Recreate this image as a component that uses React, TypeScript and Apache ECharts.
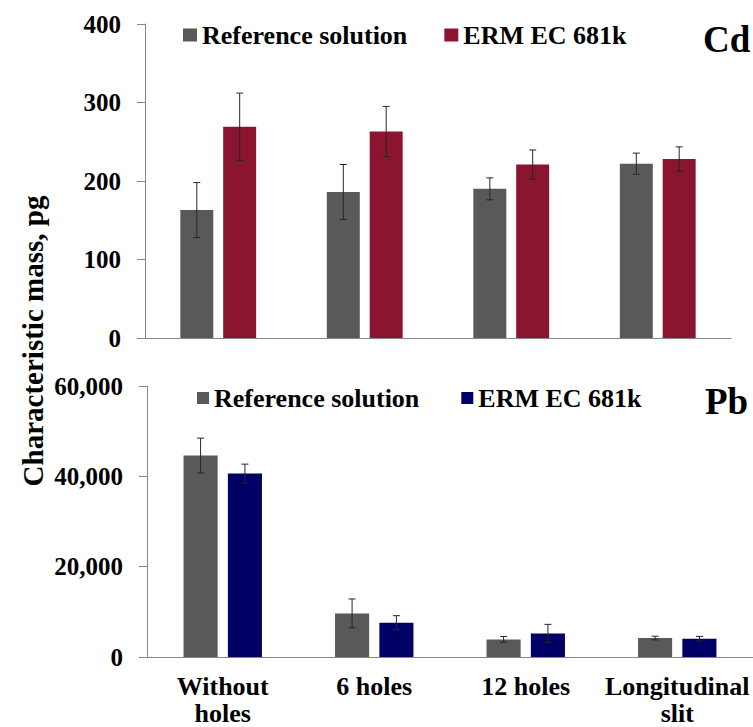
import React, { useEffect, useRef } from "react";
import * as echarts from "echarts";

const categories = ["Without\nholes", "6 holes", "12 holes", "Longitudinal\nslit"];
const seriesNames = ["Reference solution", "ERM EC 681k"];

const cdReference = [163, 186, 190, 222];
const cdReferenceErr = [35, 35, 14, 13.5];
const cdErm = [269, 263, 221, 228];
const cdErmErr = [43, 32, 18.5, 15.5];

const pbReference = [44600, 9650, 3900, 4200];
const pbReferenceErr = [3860, 3200, 630, 400];
const pbErm = [40600, 7600, 5230, 4060];
const pbErmErr = [2100, 1550, 2000, 500];

const cdTicks = { min: 0, max: 400, interval: 100 };
const pbTicks = { min: 0, max: 60000, interval: 20000 };

const GRAY = "#595959";
const RED = "#8B1530";
const BLUE = "#000066";
const FONT = "Liberation Serif, Times New Roman, serif";
const BAR_PCT = 0.225;
const GAP_PCT = 0.3;

function errorBar(side: number) {
  return (params: any, api: any) => {
    const i = api.value(0);
    const v = api.value(1);
    const e = api.value(2);
    const c = api.coord([i, v]);
    const band = api.size([1, 0])[0];
    const bw = band * BAR_PCT;
    const gap = bw * GAP_PCT;
    const x = c[0] + (side * (bw + gap)) / 2;
    const top = api.coord([i, v + e])[1];
    const bot = api.coord([i, v - e])[1];
    const cap = 3.5;
    const style = { stroke: "#262626", lineWidth: 1 };
    return {
      type: "group",
      children: [
        { type: "line", shape: { x1: x, y1: top, x2: x, y2: bot }, style },
        { type: "line", shape: { x1: x - cap, y1: top, x2: x + cap, y2: top }, style },
        { type: "line", shape: { x1: x - cap, y1: bot, x2: x + cap, y2: bot }, style },
      ],
    };
  };
}

function errData(vals: number[], errs: number[]) {
  return vals.map((v, i) => [i, v, errs[i]]);
}

export default function App() {
  const ref = useRef<HTMLDivElement>(null);

  useEffect(() => {
    if (!ref.current) return;
    const chart = echarts.init(ref.current, undefined, { renderer: "svg" });

    const axisLineStyle = { color: "#878787", width: 1 };
    const yLabel = { fontFamily: FONT, fontWeight: "bold" as const, fontSize: 25, color: "#000", margin: 24 };

    const option: any = {
      animation: false,
      backgroundColor: "#fff",
      textStyle: { fontFamily: FONT },
      grid: [
        { left: 145, top: 24, width: 586, height: 314 },
        { left: 147, top: 386, width: 612, height: 272 },
      ],
      legend: [
        {
          left: 183,
          top: 22,
          padding: 0,
          itemWidth: 14,
          itemHeight: 13,
          itemGap: 37,
          icon: "rect",
          textStyle: { fontFamily: FONT, fontWeight: "bold", fontSize: 26, color: "#000" },
          data: [
            { name: seriesNames[0], itemStyle: { color: GRAY } },
            { name: seriesNames[1], itemStyle: { color: RED } },
          ],
          selectedMode: false,
        },
        {
          left: 197,
          top: 385,
          padding: 0,
          itemWidth: 12,
          itemHeight: 12,
          itemGap: 42,
          icon: "rect",
          textStyle: { fontFamily: FONT, fontWeight: "bold", fontSize: 26, color: "#000" },
          data: [
            { name: seriesNames[0], itemStyle: { color: GRAY } },
            { name: seriesNames[1], itemStyle: { color: BLUE } },
          ],
          selectedMode: false,
        },
      ],
      xAxis: [
        {
          type: "category",
          gridIndex: 0,
          data: categories,
          axisLine: { lineStyle: axisLineStyle },
          axisTick: { alignWithLabel: true, length: 4, lineStyle: axisLineStyle },
          axisLabel: { show: false },
        },
        {
          type: "category",
          gridIndex: 1,
          data: categories,
          axisLine: { lineStyle: axisLineStyle },
          axisTick: { alignWithLabel: true, length: 5, lineStyle: axisLineStyle },
          axisLabel: {
            interval: 0,
            fontFamily: FONT,
            fontWeight: "bold",
            fontSize: 26,
            lineHeight: 27,
            color: "#000",
            margin: 16,
          },
        },
      ],
      yAxis: [
        {
          type: "value",
          gridIndex: 0,
          ...cdTicks,
          axisLine: { show: true, lineStyle: axisLineStyle },
          axisTick: { show: true, length: 8, lineStyle: axisLineStyle },
          splitLine: { show: false },
          axisLabel: yLabel,
        },
        {
          type: "value",
          gridIndex: 1,
          ...pbTicks,
          axisLine: { show: true, lineStyle: axisLineStyle },
          axisTick: { show: true, length: 8, lineStyle: axisLineStyle },
          splitLine: { show: false },
          axisLabel: { ...yLabel, formatter: (v: number) => v.toLocaleString("en-US") },
        },
      ],
      series: [
        {
          name: seriesNames[0],
          type: "bar",
          xAxisIndex: 0,
          yAxisIndex: 0,
          data: cdReference,
          barWidth: "22.5%",
          barGap: "30%",
          itemStyle: { color: GRAY },
        },
        {
          name: seriesNames[1],
          type: "bar",
          xAxisIndex: 0,
          yAxisIndex: 0,
          data: cdErm,
          barWidth: "22.5%",
          barGap: "30%",
          itemStyle: { color: RED },
        },
        {
          name: seriesNames[0],
          type: "bar",
          xAxisIndex: 1,
          yAxisIndex: 1,
          data: pbReference,
          barWidth: "22.5%",
          barGap: "30%",
          itemStyle: { color: GRAY },
        },
        {
          name: seriesNames[1],
          type: "bar",
          xAxisIndex: 1,
          yAxisIndex: 1,
          data: pbErm,
          barWidth: "22.5%",
          barGap: "30%",
          itemStyle: { color: BLUE },
        },
        {
          type: "custom",
          xAxisIndex: 0,
          yAxisIndex: 0,
          z: 5,
          renderItem: errorBar(-1),
          data: errData(cdReference, cdReferenceErr),
          encode: { x: 0, y: 1 },
          silent: true,
        },
        {
          type: "custom",
          xAxisIndex: 0,
          yAxisIndex: 0,
          z: 5,
          renderItem: errorBar(1),
          data: errData(cdErm, cdErmErr),
          encode: { x: 0, y: 1 },
          silent: true,
        },
        {
          type: "custom",
          xAxisIndex: 1,
          yAxisIndex: 1,
          z: 5,
          renderItem: errorBar(-1),
          data: errData(pbReference, pbReferenceErr),
          encode: { x: 0, y: 1 },
          silent: true,
        },
        {
          type: "custom",
          xAxisIndex: 1,
          yAxisIndex: 1,
          z: 5,
          renderItem: errorBar(1),
          data: errData(pbErm, pbErmErr),
          encode: { x: 0, y: 1 },
          silent: true,
        },
      ],
      graphic: [
        {
          type: "text",
          x: 703,
          y: 39,
          style: {
            text: "Cd",
            fontFamily: FONT,
            fontWeight: "bold",
            fontSize: 37,
            fill: "#000",
            verticalAlign: "middle",
            align: "left",
          },
        },
        {
          type: "text",
          x: 705,
          y: 401,
          style: {
            text: "Pb",
            fontFamily: FONT,
            fontWeight: "bold",
            fontSize: 37,
            fill: "#000",
            verticalAlign: "middle",
            align: "left",
          },
        },
        {
          type: "text",
          x: 33,
          y: 341,
          rotation: Math.PI / 2,
          style: {
            text: "Characteristic mass, pg",
            fontFamily: FONT,
            fontWeight: "bold",
            fontSize: 29,
            fill: "#000",
            verticalAlign: "middle",
            align: "center",
          },
        },
      ],
    };

    chart.setOption(option);
    return () => chart.dispose();
  }, []);

  return (
    <div
      ref={ref}
      style={{ position: "absolute", left: 0, top: 0, width: 753, height: 727, background: "#fff" }}
    />
  );
}
